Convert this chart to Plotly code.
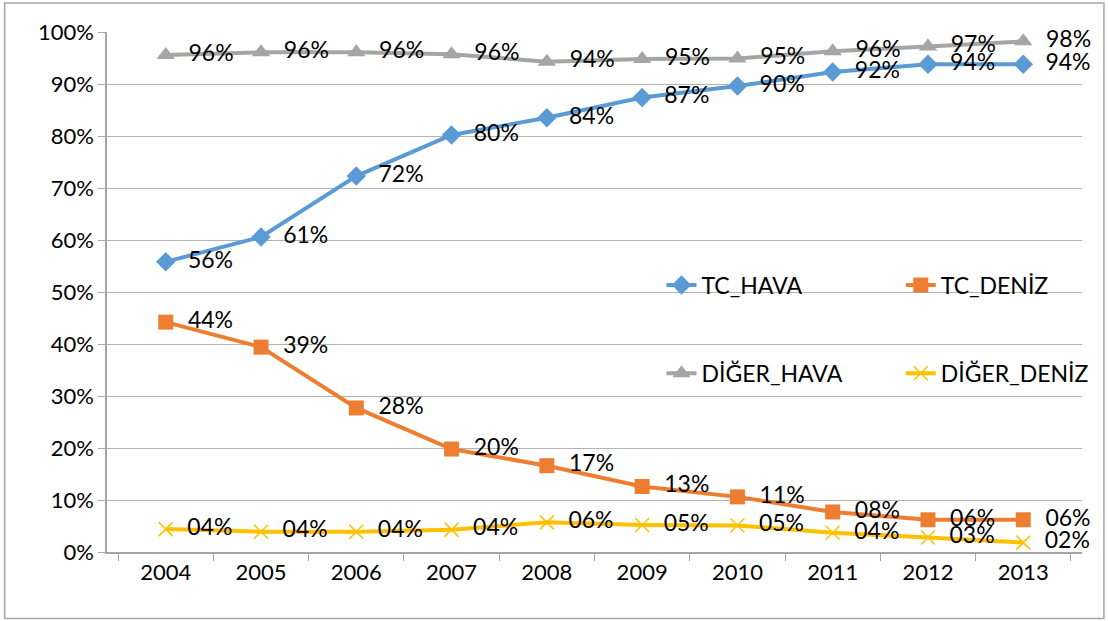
import plotly.graph_objects as go

years = ["2004", "2005", "2006", "2007", "2008", "2009", "2010", "2011", "2012", "2013"]
tc_hava = [55.8, 60.6, 72.3, 80.2, 83.5, 87.4, 89.6, 92.3, 93.8, 93.8]
tc_deniz = [44.2, 39.4, 27.7, 19.8, 16.6, 12.6, 10.6, 7.7, 6.2, 6.2]
diger_hava = [95.6, 96.1, 96.1, 95.7, 94.3, 94.8, 94.9, 96.3, 97.2, 98.2]
diger_deniz = [4.4, 3.9, 3.9, 4.3, 5.7, 5.2, 5.1, 3.7, 2.8, 1.8]
y_ticks = [0, 10, 20, 30, 40, 50, 60, 70, 80, 90, 100]

FONT = "Lato, 'Liberation Sans', sans-serif"
NB = "\u00a0"


def labels(vals):
    return [f"{NB * 2}{int(v + 0.5):02d}%" for v in vals]


series = [
    ("TC_HAVA", tc_hava, "#5B9BD5", dict(symbol="diamond", size=15), "legend", 0.597, 0.541),
    ("TC_DENİZ", tc_deniz, "#ED7D31", dict(symbol="square", size=15), "legend2", 0.813, 0.541),
    ("DİĞER_HAVA", diger_hava, "#A5A5A5", dict(symbol="triangle-up", size=16), "legend3", 0.597, 0.399),
    ("DİĞER_DENİZ", diger_deniz, "#FFC000",
     dict(symbol="x-thin", size=14, line=dict(width=1.5, color="#FFC000")), "legend4", 0.813, 0.399),
]

fig = go.Figure()
legends = {}
for name, vals, color, marker, leg, lx, ly in series:
    fig.add_trace(go.Scatter(
        x=years, y=vals, name=name, mode="lines+markers+text",
        line=dict(color=color, width=4),
        marker=dict(color=color, **marker),
        text=labels(vals), textposition="middle right",
        textfont=dict(family=FONT, size=23, color="#000000"),
        legend=leg, cliponaxis=False,
    ))
    legends[leg] = dict(xref="container", yref="container", x=lx, y=ly,
                        xanchor="left", yanchor="middle", bgcolor="rgba(0,0,0,0)",
                        font=dict(family=FONT, size=23, color="#000000"),
                        itemsizing="trace")

fig.update_layout(
    width=1108, height=621,
    margin=dict(l=107, r=26, t=32, b=69, autoexpand=False),
    paper_bgcolor="white", plot_bgcolor="white",
    font=dict(family=FONT, size=22, color="#000000"),
    showlegend=True,
    shapes=[dict(type="rect", xref="paper", yref="paper",
                 x0=-0.105, x1=1.0225, y0=-0.128, y1=1.056,
                 line=dict(color="#A6A6A6", width=1.5), fillcolor="rgba(0,0,0,0)", layer="below")],
    **legends,
)
fig.update_xaxes(type="category", showline=True, linecolor="#A6A6A6", linewidth=1.5,
                 ticks="outside", tickson="boundaries", ticklen=7, tickcolor="#A6A6A6",
                 showgrid=False, tickfont=dict(family=FONT, size=22))
fig.update_yaxes(range=[0, 100], tickvals=y_ticks, ticktext=[f"{v}%" for v in y_ticks],
                 showgrid=True, gridcolor="#B3B3B3", gridwidth=1.2, showline=True,
                 linecolor="#A6A6A6", linewidth=1.5, ticks="outside", ticklen=7,
                 tickcolor="#A6A6A6", zeroline=False, tickfont=dict(family=FONT, size=22))

fig.write_html("out.html", config={"displayModeBar": False},
               post_script="document.body.style.margin='0px';")
